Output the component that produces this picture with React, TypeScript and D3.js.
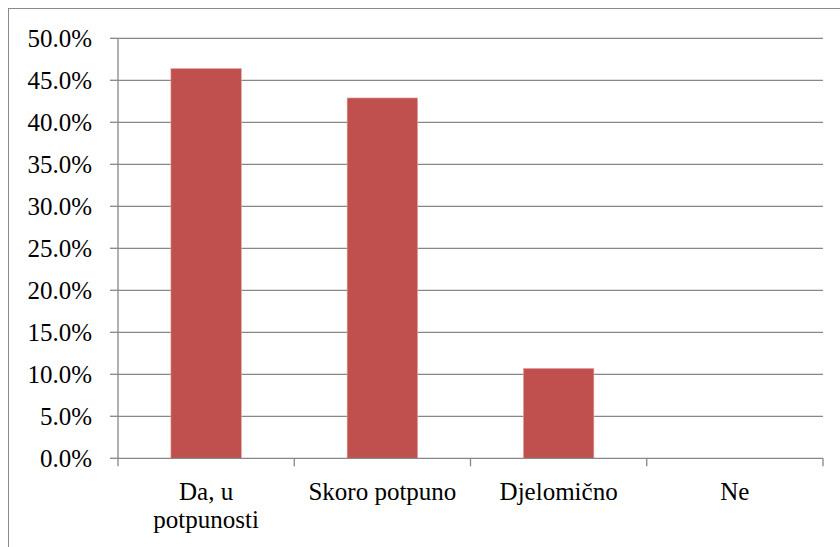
import React from "react";
import * as d3 from "d3";

const categories = ["Da, u potpunosti", "Skoro potpuno", "Djelomično", "Ne"];
const values = [46.4, 42.9, 10.7, 0];
const yTicks = [0, 5, 10, 15, 20, 25, 30, 35, 40, 45, 50];

const W = 840;
const H = 547;
const M = { left: 118, right: 823, top: 38.3, bottom: 458.3 };
const FONT = "Liberation Serif";
const GRID = "#878787";

function wrap(text: string, maxW: number): string[] {
  const c = document.createElement("canvas").getContext("2d")!;
  c.font = `25px "${FONT}"`;
  const words = text.split(" ");
  const lines: string[] = [];
  let cur: string[] = [];
  for (const w of words) {
    const test = [...cur, w].join(" ");
    if (cur.length > 0 && c.measureText(test).width > maxW) {
      lines.push(cur.join(" "));
      cur = [w];
    } else cur.push(w);
  }
  if (cur.length) lines.push(cur.join(" "));
  return lines;
}

export default function App() {
  const x = d3
    .scaleBand<string>()
    .domain(categories)
    .range([M.left, M.right])
    .paddingInner(0.6)
    .paddingOuter(0.3);
  const y = d3.scaleLinear().domain([0, 50]).range([M.bottom, M.top]);
  const step = x.step();
  const centers = categories.map((c) => x(c)! + x.bandwidth() / 2);
  const bounds = [...centers.map((c) => c - step / 2), centers[centers.length - 1] + step / 2];
  const textStyle = { fontFamily: FONT, fontSize: "25px" };

  return (
    <svg width={W} height={H} style={{ position: "absolute", left: 0, top: 0, background: "white" }}>
      <rect x={8.5} y={8.5} width={W} height={H} fill="white" stroke="#8a8a8a" strokeWidth={1} />
      {yTicks
        .filter((t) => t > 0)
        .map((t) => (
          <line key={"g" + t} x1={M.left} x2={M.right} y1={y(t)} y2={y(t)} stroke={GRID} strokeWidth={1.3} />
        ))}
      {categories.map((c, i) => (
        <rect
          key={c}
          x={x(c)}
          width={x.bandwidth()}
          y={y(values[i])}
          height={y(0) - y(values[i])}
          fill="#C0504D"
          stroke="#e4a9a8"
          strokeWidth={0.6}
        />
      ))}
      <line x1={M.left} x2={M.left} y1={M.top} y2={M.bottom} stroke={GRID} strokeWidth={1.3} />
      {yTicks.map((t) => (
        <g key={"t" + t}>
          <line x1={M.left - 8} x2={M.left} y1={y(t)} y2={y(t)} stroke={GRID} strokeWidth={1.3} />
          <text x={92} y={y(t) + 8.4} textAnchor="end" style={textStyle} fill="#000">
            {t.toFixed(1) + "%"}
          </text>
        </g>
      ))}
      <line x1={M.left} x2={M.right} y1={M.bottom} y2={M.bottom} stroke={GRID} strokeWidth={1.3} />
      {bounds.map((b, i) => (
        <line key={"b" + i} x1={b} x2={b} y1={M.bottom} y2={M.bottom + 8} stroke={GRID} strokeWidth={1.3} />
      ))}
      {categories.map((c, i) => (
        <text key={"l" + c} x={centers[i]} y={500} textAnchor="middle" style={textStyle} fill="#000">
          {wrap(c, 160).map((ln, j) => (
            <tspan key={j} x={centers[i]} dy={j === 0 ? 0 : 28}>
              {ln}
            </tspan>
          ))}
        </text>
      ))}
    </svg>
  );
}
